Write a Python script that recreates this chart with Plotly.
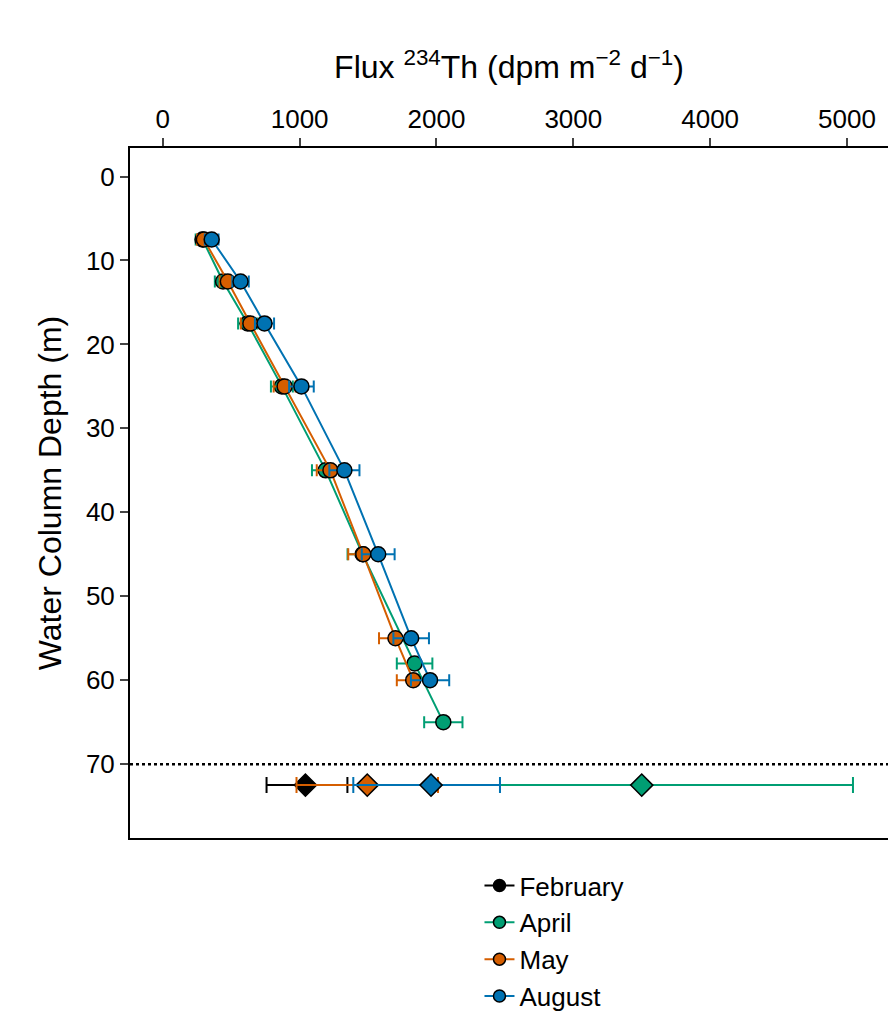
import plotly.graph_objects as go

# profile depths (m)
depth_may_aug = [7.5, 12.5, 17.5, 25, 35, 45, 55, 60]
depth_apr = [7.5, 12.5, 17.5, 25, 35, 45, 58, 65]

flux_apr = [290, 440, 620, 870, 1190, 1460, 1840, 2050]
err_apr = [50, 60, 70, 80, 100, 110, 130, 140]
flux_may = [300, 475, 640, 890, 1225, 1465, 1700, 1830]
err_may = [50, 60, 70, 80, 100, 110, 120, 120]
flux_aug = [357, 568, 743, 1013, 1327, 1574, 1815, 1953]
err_aug = [50, 60, 70, 90, 110, 120, 130, 140]

# integrated flux below 70 m
int_depth = 72.5
int_months = ['February', 'April', 'May', 'August']
int_flux = [1042, 3500, 1494, 1960]
int_lo = [758, 1955, 977, 1392]
int_hi = [1349, 5044, 2011, 2464]

colors = {'February': '#000000', 'April': '#009E73', 'May': '#D55E00', 'August': '#0072B2'}

fig = go.Figure()
profiles = {'April': (depth_apr, flux_apr, err_apr),
            'May': (depth_may_aug, flux_may, err_may),
            'August': (depth_may_aug, flux_aug, err_aug)}

for i, m in enumerate(int_months):
    c = colors[m]
    if m in profiles:
        d, f, e = profiles[m]
        fig.add_trace(go.Scatter(x=f, y=d, mode='lines+markers', name=m, legendgroup=m,
                                 showlegend=False, line=dict(color=c, width=2),
                                 marker=dict(size=15, color=c, line=dict(color='black', width=1.5)),
                                 error_x=dict(type='data', array=e, color=c, thickness=2, width=6)))
    fig.add_trace(go.Scatter(x=[int_flux[i]], y=[int_depth], mode='markers', name=m, legendgroup=m,
                             showlegend=False,
                             marker=dict(size=17, symbol='diamond', color=c, line=dict(color='black', width=1.5)),
                             error_x=dict(type='data', symmetric=False,
                                          array=[int_hi[i] - int_flux[i]],
                                          arrayminus=[int_flux[i] - int_lo[i]],
                                          color=c, thickness=2, width=8)))
    # legend entry
    fig.add_trace(go.Scatter(x=[None], y=[None], mode='lines+markers', name=m,
                             line=dict(color=c, width=2),
                             marker=dict(size=12, color=c, line=dict(color='black', width=1.5))))

fig.add_hline(y=70, line=dict(color='black', width=2.5, dash='dot'))

fig.update_layout(
    width=896, height=1024, paper_bgcolor='white', plot_bgcolor='white',
    font=dict(family='Arial, Liberation Sans', size=26, color='black'),
    margin=dict(l=122, r=16, t=140, b=89),
    showlegend=True,
    legend=dict(orientation='h', x=0.56, xanchor='center', y=-0.035, yanchor='top',
                font=dict(size=26), itemwidth=30, entrywidth=0, tracegroupgap=0),
)
fig.update_xaxes(side='top', range=[-240, 5300], tickvals=[0, 1000, 2000, 3000, 4000, 5000],
                 showgrid=False, zeroline=False, showline=True, mirror=True, linecolor='black',
                 linewidth=2, ticks='outside', ticklen=8, tickwidth=2,
                 title=dict(text='Flux <sup>234</sup>Th (dpm m<sup>\u22122</sup> d<sup>\u22121</sup>)',
                            font=dict(size=32)))
fig.update_yaxes(range=[78.8, -3.4], tickvals=[0, 10, 20, 30, 40, 50, 60, 70],
                 showgrid=False, zeroline=False, showline=True, mirror=True, linecolor='black',
                 linewidth=2, ticks='outside', ticklen=8, tickwidth=2,
                 title=dict(text='Water Column Depth (m)', font=dict(size=32)))

fig.write_html("out.html")
